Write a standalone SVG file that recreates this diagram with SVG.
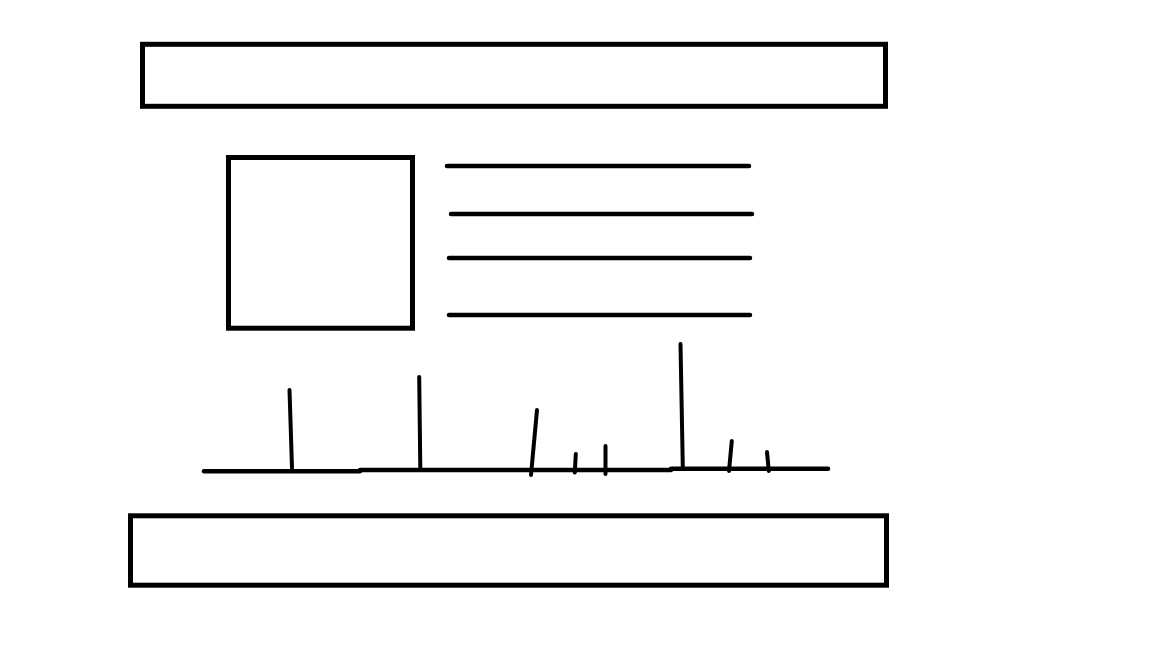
<svg xmlns="http://www.w3.org/2000/svg" width="1152" height="648" viewBox="0 0 1152 648">
  <style>
    .box { fill: #ffffff; stroke: #000000; stroke-width: 5; }
    .ln { fill: none; stroke: #000000; stroke-width: 4.5; stroke-linecap: round; }
    .tk { fill: none; stroke: #000000; stroke-width: 4; stroke-linecap: round; }
  </style>
  <rect width="1152" height="648" fill="#ffffff"/>
  <g id="header">
    <rect class="box" x="142.5" y="44.3" width="743" height="62"/>
  </g>
  <g id="image">
    <rect class="box" x="228.5" y="157.5" width="184" height="170.7"/>
  </g>
  <g id="text-lines">
    <line class="ln" x1="447" y1="166" x2="749" y2="166"/>
    <line class="ln" x1="451" y1="214" x2="752" y2="214"/>
    <line class="ln" x1="449" y1="258" x2="750" y2="258"/>
    <line class="ln" x1="449" y1="315" x2="750" y2="315"/>
  </g>
  <g id="chart">
    <line class="ln" x1="204" y1="471.3" x2="360" y2="471.3"/>
    <line class="ln" x1="360" y1="470" x2="671" y2="470"/>
    <line class="ln" x1="671" y1="468.7" x2="828" y2="468.7"/>
    <line class="tk" x1="289.5" y1="390" x2="292" y2="468"/>
    <line class="tk" x1="419.2" y1="377" x2="420.3" y2="468"/>
    <line class="tk" x1="537" y1="410" x2="531" y2="475"/>
    <line class="tk" x1="575.8" y1="454" x2="574.8" y2="472.5"/>
    <line class="tk" x1="605.5" y1="446" x2="605.5" y2="474"/>
    <line class="tk" x1="680.5" y1="344" x2="682.8" y2="467"/>
    <line class="tk" x1="731.8" y1="441" x2="729" y2="471"/>
    <line class="tk" x1="767" y1="452" x2="768.8" y2="471"/>
  </g>
  <g id="footer">
    <rect class="box" x="130.5" y="515.8" width="756" height="69.4"/>
  </g>
</svg>
